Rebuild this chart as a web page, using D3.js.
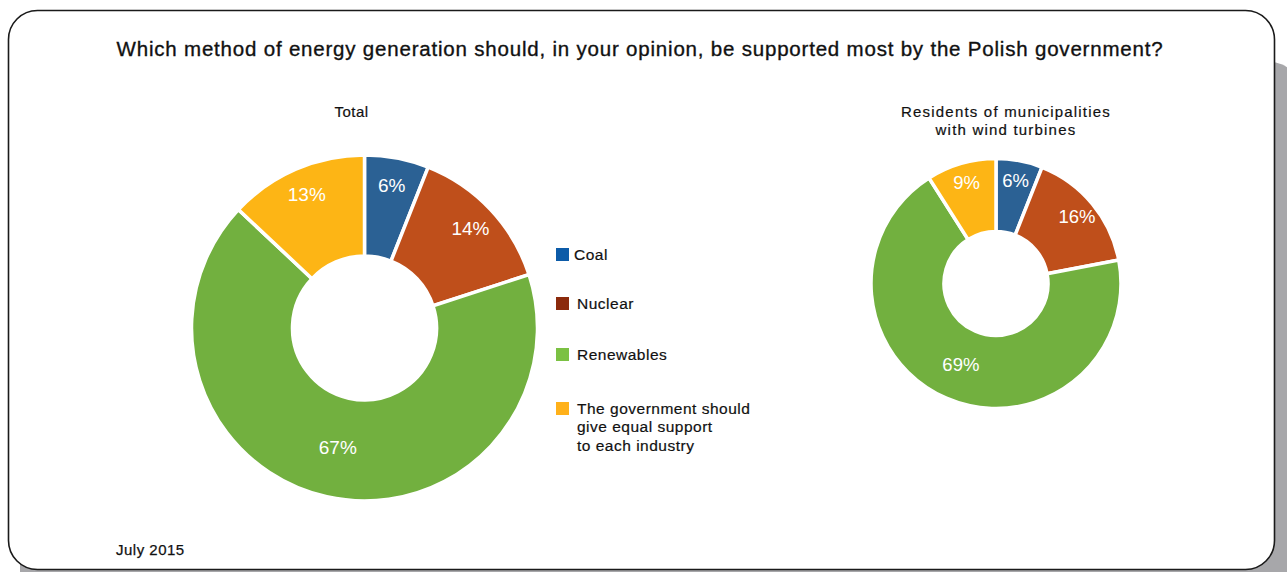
<!DOCTYPE html>
<html>
<head>
<meta charset="utf-8">
<script src="https://cdn.jsdelivr.net/npm/d3@7"></script>
<style>
  html, body { margin: 0; padding: 0; background: #fff; }
  svg { display: block; }
  text { font-family: "Liberation Sans", Arial, "Helvetica Neue", sans-serif; }
</style>
</head>
<body>
<svg id="chart" width="1287" height="572"></svg>
<script>
// Survey answers, July 2015
const categories = ["Coal", "Nuclear", "Renewables", "The government should give equal support to each industry"];
const legendLines = [["Coal"], ["Nuclear"], ["Renewables"], ["The government should", "give equal support", "to each industry"]];
const totalValues = [6, 14, 67, 13];
const windValues = [6, 16, 69, 9];
const chartTitles = ["Total", "Residents of municipalities|with wind turbines"];
const sliceColors = ["#2b6194", "#bf4f1b", "#72b03f", "#fdb515"];
const legendColors = ["#0c5ba8", "#8b2a0c", "#7bc143", "#ffb11a"];
const title = "Which method of energy generation should, in your opinion, be supported most by the Polish government?";
const dateLabel = "July 2015";

const svg = d3.select("#chart");

// Card with drop shadow
svg.append("rect")
  .attr("x", 20).attr("y", 62).attr("width", 1280).attr("height", 560)
  .attr("rx", 30).attr("fill", "#a7a7aa");
svg.append("rect")
  .attr("x", 8.5).attr("y", 10.5).attr("width", 1266).attr("height", 559)
  .attr("rx", 29).attr("fill", "#fff")
  .attr("stroke", "#1a1a1a").attr("stroke-width", 1.6);

svg.append("text")
  .attr("x", 640).attr("y", 56)
  .attr("text-anchor", "middle")
  .attr("font-size", 20.5)
  .attr("letter-spacing", 0.8)
  .attr("fill", "#111")
  .attr("stroke", "#111").attr("stroke-width", 0.35)
  .text(title);

svg.append("text")
  .attr("x", 116).attr("y", 555)
  .attr("font-size", 15)
  .attr("letter-spacing", 0.5)
  .attr("fill", "#111")
  .attr("stroke", "#111").attr("stroke-width", 0.25)
  .text(dateLabel);

const pie = d3.pie().sort(null).value(d => d);

function donut(values, cx, cy, rOuter, rInner, heading, headingY, headingX) {
  const g = svg.append("g").attr("transform", `translate(${cx},${cy})`);
  const arc = d3.arc().innerRadius(rInner).outerRadius(rOuter);
  const arcs = pie(values);

  g.selectAll("path.slice")
    .data(arcs)
    .join("path")
    .attr("class", "slice")
    .attr("d", arc)
    .attr("fill", (d, i) => sliceColors[i])
    .attr("stroke", "#fff")
    .attr("stroke-width", 3.5)
    .attr("stroke-linejoin", "miter");

  // Small slices get their label near the rim, the dominant slice mid-ring
  const rimLabel = d3.arc().innerRadius(rOuter * 0.84).outerRadius(rOuter * 0.84);
  const midLabel = d3.arc().innerRadius((rInner + rOuter) / 2).outerRadius((rInner + rOuter) / 2);
  g.selectAll("text.pct")
    .data(arcs)
    .join("text")
    .attr("class", "pct")
    .attr("transform", d => `translate(${(d.data > 50 ? midLabel : rimLabel).centroid(d)})`)
    .attr("text-anchor", "middle")
    .attr("dy", "0.36em")
    .attr("font-size", rOuter > 150 ? 19 : 18.5)
    .attr("font-family", "'Open Sans', 'Liberation Sans', sans-serif")
    .attr("font-weight", 300)
    .attr("fill", "#fff")
    .text(d => d.data + "%");

  const lines = heading.split("|");
  const t = svg.append("text")
    .attr("y", headingY)
    .attr("text-anchor", "middle")
    .attr("font-size", 15)
    .attr("letter-spacing", lines.length > 1 ? 1.2 : 0.5)
    .attr("fill", "#111")
    .attr("stroke", "#111").attr("stroke-width", 0.2);
  lines.forEach((ln, i) => t.append("tspan").attr("x", headingX).attr("dy", i ? 18 : 0).text(ln));
}

donut(totalValues, 364.5, 328, 173, 72, chartTitles[0], 117, 351.5);
donut(windValues, 996, 283.5, 125, 52, chartTitles[1], 117, 1006);

// Legend
const legend = svg.append("g").attr("transform", "translate(556,248)");
const item = legend.selectAll("g")
  .data(categories)
  .join("g")
  .attr("transform", (d, i) => `translate(0,${[0, 49, 100, 154][i]})`);
item.append("rect")
  .attr("width", 13).attr("height", 13)
  .attr("fill", (d, i) => legendColors[i]);
item.append("text")
  .attr("font-size", 15.5)
  .attr("letter-spacing", 0.5)
  .attr("fill", "#111")
  .attr("stroke", "#111").attr("stroke-width", 0.2)
  .each(function (d, i) {
    const el = d3.select(this);
    legendLines[i].forEach((ln, j) =>
      el.append("tspan").attr("x", i === 0 ? 18 : 21).attr("y", 11.5 + j * 18.5).text(ln));
  });
</script>
</body>
</html>
